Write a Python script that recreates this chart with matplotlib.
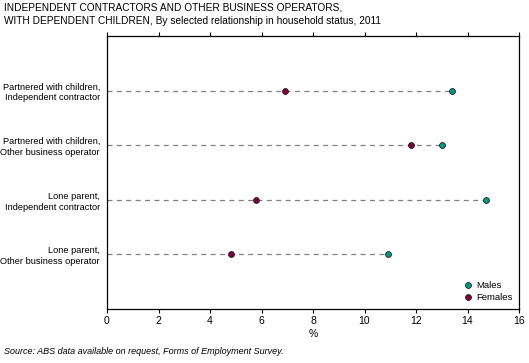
import matplotlib
matplotlib.use("Agg")
from matplotlib import pyplot as plt

plt.rcParams['font.family'] = ['Liberation Sans', 'DejaVu Sans']

# Data, listed bottom to top
categories = ["Lone parent,\nOther business operator",
              "Lone parent,\nIndependent contractor",
              "Partnered with children,\nOther business operator",
              "Partnered with children,\nIndependent contractor"]
males = [10.9, 14.7, 13.0, 13.4]
females = [4.8, 5.8, 11.8, 6.9]
x_ticks = [0, 2, 4, 6, 8, 10, 12, 14, 16]

male_col = "#00998a"
female_col = "#7f0040"

fig = plt.figure(figsize=(5.29, 3.63), dpi=100)
ax = fig.add_axes([107/529, 1-309/363, 412/529, 273/363])

pos = list(range(len(categories)))
for y, m, f in zip(pos, males, females):
    ax.plot([0, max(m, f)], [y, y], color="#808080", lw=0.9, ls=(0, (4, 3.5)), zorder=1)
ax.plot(males, pos, 'o', ms=4.2, mfc=male_col, mec="#1a1a1a", mew=0.6, ls='none', label="Males", zorder=3)
ax.plot(females, pos, 'o', ms=4.2, mfc=female_col, mec="#1a1a1a", mew=0.6, ls='none', label="Females", zorder=3)

ax.set_xlim(0, 16)
ax.set_ylim(-1, 4)
ax.set_xticks(x_ticks)
ax.set_yticks(pos)
ax.set_yticklabels(categories, fontsize=6.7, ha='right', linespacing=1.25)
ax.tick_params(axis='y', length=0, pad=5)
ax.tick_params(axis='x', labelsize=7.5, length=3, width=0.8, top=True, direction='out', pad=2)
for s in ax.spines.values():
    s.set_linewidth(0.9)
ax.set_xlabel("%", fontsize=7.5, labelpad=2)

ax.legend(loc='lower right', frameon=False, fontsize=6.8, handlelength=0.8, handletextpad=0.4,
          labelspacing=0.35, borderaxespad=0.4, borderpad=0.3)

fig.text(4/529, 1-3/363, "INDEPENDENT CONTRACTORS AND OTHER BUSINESS OPERATORS,\n"
         "WITH DEPENDENT CHILDREN, By selected relationship in household status, 2011",
         fontsize=7.3, va='top', ha='left', linespacing=1.35)
fig.text(4/529, 1-352/363, "Source: ABS data available on request, Forms of Employment Survey.",
         fontsize=6.5, style='italic', va='center', ha='left')

fig.savefig("out.png", dpi=100)
